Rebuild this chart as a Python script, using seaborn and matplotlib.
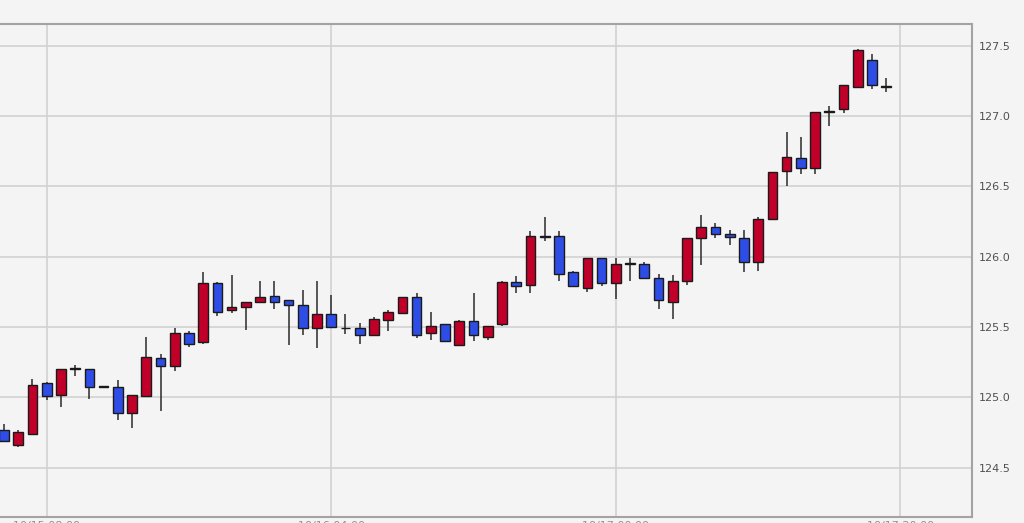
import matplotlib
matplotlib.use("Agg")
import matplotlib.pyplot as plt
import seaborn as sns
import numpy as np

# ---- data ----
opens = [124.77, 124.66, 124.74, 125.10, 125.02, 125.205, 125.20, 125.078, 125.07, 124.89,
         125.01, 125.28, 125.22, 125.46, 125.39, 125.81, 125.62, 125.64, 125.68, 125.72,
         125.69, 125.66, 125.49, 125.59, 125.49, 125.49, 125.44, 125.55, 125.60, 125.71,
         125.46, 125.52, 125.37, 125.54, 125.43, 125.52, 125.82, 125.80, 126.14, 126.15,
         125.89, 125.78, 125.99, 125.81, 125.952, 125.95, 125.85, 125.68, 125.83, 126.13,
         126.21, 126.16, 126.13, 125.96, 126.27, 126.61, 126.70, 126.63, 127.03, 127.05,
         127.21, 127.40, 127.21]
highs = [124.81, 124.77, 125.13, 125.11, 125.20, 125.23, 125.20, 125.08, 125.12, 125.02,
         125.43, 125.31, 125.49, 125.47, 125.89, 125.82, 125.87, 125.68, 125.83, 125.83,
         125.69, 125.76, 125.83, 125.73, 125.59, 125.53, 125.57, 125.62, 125.71, 125.74,
         125.61, 125.52, 125.55, 125.74, 125.51, 125.83, 125.86, 126.18, 126.28, 126.18,
         125.90, 125.99, 125.99, 125.99, 125.99, 125.96, 125.88, 125.87, 126.13, 126.30,
         126.24, 126.19, 126.19, 126.28, 126.60, 126.89, 126.85, 127.03, 127.07, 127.22,
         127.48, 127.44, 127.27]
lows = [124.68, 124.65, 124.73, 124.98, 124.93, 125.15, 124.99, 125.07, 124.84, 124.78,
        125.01, 124.90, 125.19, 125.36, 125.38, 125.58, 125.60, 125.48, 125.67, 125.63,
        125.37, 125.44, 125.35, 125.49, 125.45, 125.38, 125.44, 125.47, 125.59, 125.42,
        125.41, 125.39, 125.37, 125.40, 125.41, 125.51, 125.74, 125.74, 126.11, 125.83,
        125.79, 125.75, 125.79, 125.70, 125.83, 125.84, 125.63, 125.56, 125.80, 125.94,
        126.13, 126.08, 125.89, 125.90, 126.27, 126.50, 126.59, 126.59, 126.93, 127.02,
        127.20, 127.19, 127.17]
closes = [124.69, 124.75, 125.09, 125.01, 125.20, 125.205, 125.07, 125.072, 124.89, 125.02,
          125.29, 125.22, 125.46, 125.38, 125.81, 125.61, 125.64, 125.68, 125.71, 125.68,
          125.66, 125.49, 125.59, 125.50, 125.49, 125.44, 125.56, 125.61, 125.71, 125.44,
          125.51, 125.40, 125.54, 125.44, 125.51, 125.82, 125.79, 126.15, 126.15, 125.88,
          125.79, 125.99, 125.81, 125.95, 125.948, 125.85, 125.69, 125.83, 126.13, 126.21,
          126.16, 126.14, 125.96, 126.27, 126.60, 126.71, 126.63, 127.03, 127.035, 127.22,
          127.47, 127.22, 127.21]
x_tick_pos = [3, 23, 43, 63]
x_tick_labels = ["10/15 08:00", "10/16 04:00", "10/17 00:00", "10/17 20:00"]
y_ticks = [124.5, 125.0, 125.5, 126.0, 126.5, 127.0, 127.5]

UP = "#c10029"
DOWN = "#2d4de6"
BG = "#f4f4f4"

sns.set_theme(style="white")
plt.rcParams["font.family"] = ["DejaVu Sans"]

fig = plt.figure(figsize=(10.24, 5.23), dpi=100, facecolor=BG)
ax = fig.add_axes([0.0, 6 / 523, 972 / 1024, 493 / 523])
ax.set_facecolor(BG)

o = np.array(opens); h = np.array(highs); l = np.array(lows); c = np.array(closes)
xs = np.arange(len(o))

ax.vlines(xs, l, h, color="#2a2a2a", linewidth=1.1, zorder=2)
bottoms = np.minimum(o, c)
heights = np.maximum(np.abs(c - o), 0.004)
colors = [UP if cc > oo + 1e-9 else (DOWN if cc < oo - 1e-9 else "#222222") for oo, cc in zip(o, c)]
ax.bar(xs, heights, bottom=bottoms, width=0.68, color=colors,
       edgecolor="#1a1a1a", linewidth=1.0, zorder=3)

ax.set_xlim(-0.28, 68.03)
ax.set_ylim(124.149, 127.655)

ax.set_yticks(y_ticks)
ax.set_yticklabels([f"{v:.1f}" for v in y_ticks])
ax.yaxis.tick_right()
ax.set_xticks(x_tick_pos)
ax.set_xticklabels(x_tick_labels)
ax.tick_params(axis="y", length=0, pad=5, labelsize=8, labelcolor="#505050")
ax.tick_params(axis="x", length=0, pad=3, labelsize=8, labelcolor="#909090")

ax.grid(True, color="#d2d2d2", linewidth=1.2, zorder=0)
ax.set_axisbelow(True)

for side in ["top", "right", "bottom"]:
    ax.spines[side].set_visible(True)
    ax.spines[side].set_color("#a3a3a3")
    ax.spines[side].set_linewidth(1.5)
ax.spines["left"].set_visible(False)

fig.savefig("out.png", dpi=100, facecolor=BG)
